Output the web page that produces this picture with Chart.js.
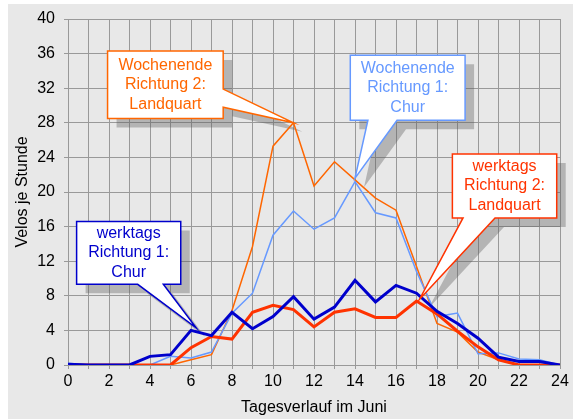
<!DOCTYPE html>
<html>
<head>
<meta charset="utf-8">
<script src="https://cdn.jsdelivr.net/npm/chart.js@4/dist/chart.umd.min.js"></script>
<style>
  html, body { margin: 0; padding: 0; background: #fff; }
  canvas { display: block; }
</style>
</head>
<body>
<canvas id="veloChart" width="573" height="419"></canvas>
<script>
// Tagesverlauf: Stunde 0..24
const hours = [0,1,2,3,4,5,6,7,8,9,10,11,12,13,14,15,16,17,18,19,20,21,22,23,24];

// Velos je Stunde
const werktagsChur      = [0.1,0,0,0,1.0,1.2,4.0,3.4,6.1,4.2,5.6,7.9,5.3,6.7,9.8,7.3,9.2,8.3,6.2,4.8,3.1,0.9,0.4,0.4,0];
const werktagsLandquart = [0,0,0,0,0,0,2.0,3.3,3.0,6.1,6.9,6.4,4.4,6.1,6.5,5.5,5.5,7.4,5.9,3.9,2.1,0.6,0,0,0];
const wochenendeChur    = [0.2,0,0,0,0,1.0,0.8,1.5,6.0,8.3,15.0,17.8,15.7,17.0,21.2,17.6,17.0,10.8,5.6,6.0,1.3,1.4,0.7,0.6,0];
const wochenendeLandquart = [0,0,0,0,0,0,0.6,1.2,6.3,13.7,25.3,28.0,20.7,23.5,21.4,19.3,17.9,11.4,4.8,3.8,1.5,0.6,0,0,0];

// Beschriftungen (Legende als Sprechblasen), Lage in Achseneinheiten
const callouts = [
  { lines: ["Wochenende", "Richtung 2:", "Landquart"], color: "#ff6600",
    box: [1.93, 36.3, 7.57, 28.5], edge: "right", base: [31.9, 29.8], tip: [11, 28] },
  { lines: ["Wochenende", "Richtung 1:", "Chur"], color: "#6699ff",
    box: [13.77, 35.8, 19.37, 28.3], edge: "bottom", base: [14.63, 16.05], tip: [14, 21.6] },
  { lines: ["werktags", "Richtung 2:", "Landquart"], color: "#ff3300",
    box: [18.75, 24.4, 23.84, 17.0], edge: "bottom", base: [19.27, 20.83], tip: [17.15, 7.6] },
  { lines: ["werktags", "Richtung 1:", "Chur"], color: "#0000cc",
    box: [0.42, 16.6, 5.5, 9.33], edge: "bottom", base: [3.4, 4.65], tip: [6.25, 4.3] }
];

const FONT = '"Liberation Sans", Arial, sans-serif';

function calloutPath(ctx, c, xs, ys, dx, dy) {
  const L = xs.getPixelForValue(c.box[0]) + dx, R = xs.getPixelForValue(c.box[2]) + dx;
  const T = ys.getPixelForValue(c.box[1]) + dy, B = ys.getPixelForValue(c.box[3]) + dy;
  const tx = xs.getPixelForValue(c.tip[0]) + dx, ty = ys.getPixelForValue(c.tip[1]) + dy;
  ctx.beginPath();
  ctx.moveTo(L, T);
  ctx.lineTo(R, T);
  if (c.edge === "right") {
    const b1 = ys.getPixelForValue(c.base[0]) + dy, b2 = ys.getPixelForValue(c.base[1]) + dy;
    ctx.lineTo(R, b1);
    ctx.lineTo(tx, ty);
    ctx.lineTo(R, b2);
    ctx.lineTo(R, B);
    ctx.lineTo(L, B);
  } else {
    const b1 = xs.getPixelForValue(c.base[0]) + dx, b2 = xs.getPixelForValue(c.base[1]) + dx;
    ctx.lineTo(R, B);
    ctx.lineTo(b2, B);
    ctx.lineTo(tx, ty);
    ctx.lineTo(b1, B);
    ctx.lineTo(L, B);
  }
  ctx.closePath();
  return { L, R, T, B };
}

const panelPlugin = {
  id: "panel",
  beforeDraw(chart) {
    const ctx = chart.ctx;
    ctx.save();
    ctx.fillStyle = "#ffffff";
    ctx.fillRect(0, 0, chart.width, chart.height);
    ctx.fillStyle = "#e8e8e8";
    ctx.fillRect(8, 4, chart.width - 8, chart.height - 4);
    ctx.restore();
  },
  beforeDatasetsDraw(chart) {
    const ctx = chart.ctx, xs = chart.scales.x, ys = chart.scales.y;
    ctx.save();
    ctx.fillStyle = "rgba(90,90,90,0.36)";
    callouts.forEach(c => { calloutPath(ctx, c, xs, ys, 9, 9); ctx.fill(); });
    ctx.restore();
  },
  afterDatasetsDraw(chart) {
    const ctx = chart.ctx, xs = chart.scales.x, ys = chart.scales.y;
    ctx.save();
    callouts.forEach(c => {
      const r = calloutPath(ctx, c, xs, ys, 0, 0);
      ctx.fillStyle = "#ffffff";
      ctx.fill();
      ctx.strokeStyle = c.color;
      ctx.lineWidth = 1.5;
      ctx.lineJoin = "miter";
      ctx.stroke();
      ctx.fillStyle = c.color;
      ctx.font = "16px " + FONT;
      ctx.textAlign = "center";
      ctx.textBaseline = "middle";
      const cx = (r.L + r.R) / 2, cy = (r.T + r.B) / 2, lh = 19.5;
      c.lines.forEach((t, i) => ctx.fillText(t, cx, cy + (i - 1) * lh));
    });
    ctx.restore();
  }
};

new Chart(document.getElementById("veloChart"), {
  type: "line",
  data: {
    labels: hours,
    datasets: [
      { label: "werktags Richtung 1: Chur", data: werktagsChur, borderColor: "#0000cc", borderWidth: 3 },
      { label: "werktags Richtung 2: Landquart", data: werktagsLandquart, borderColor: "#ff3300", borderWidth: 3 },
      { label: "Wochenende Richtung 1: Chur", data: wochenendeChur, borderColor: "#6699ff", borderWidth: 1.5 },
      { label: "Wochenende Richtung 2: Landquart", data: wochenendeLandquart, borderColor: "#ff6600", borderWidth: 1.5 }
    ]
  },
  options: {
    responsive: false,
    animation: false,
    devicePixelRatio: 1,
    layout: { padding: { top: 19, right: 13, left: 0, bottom: 0 } },
    elements: {
      point: { radius: 0 },
      line: { tension: 0, fill: false, borderJoinStyle: "miter" }
    },
    plugins: {
      legend: { display: false },
      tooltip: { enabled: false }
    },
    scales: {
      x: {
        type: "linear",
        min: 0, max: 24,
        afterFit: s => { s.height = 54; },
        ticks: {
          stepSize: 1,
          autoSkip: false,
          maxRotation: 0,
          padding: 3,
          color: "#000",
          font: { family: FONT, size: 16 },
          callback: v => (v % 2 === 0 ? String(v) : "")
        },
        grid: { color: "#999999", lineWidth: 1, tickLength: 4 },
        border: { color: "#999999" },
        title: {
          display: true,
          text: "Tagesverlauf im Juni",
          color: "#000",
          font: { family: FONT, size: 16 },
          padding: { top: 0, bottom: 2 }
        }
      },
      y: {
        min: 0, max: 40,
        afterFit: s => { s.width = 68; },
        ticks: {
          stepSize: 4,
          padding: 9,
          color: "#000",
          font: { family: FONT, size: 16 }
        },
        grid: { color: "#999999", lineWidth: 1, tickLength: 4 },
        border: { color: "#999999" },
        title: {
          display: true,
          text: "Velos je Stunde",
          color: "#000",
          font: { family: FONT, size: 16 },
          padding: { top: 13, bottom: 0 }
        }
      }
    }
  },
  plugins: [panelPlugin]
});
</script>
</body>
</html>
